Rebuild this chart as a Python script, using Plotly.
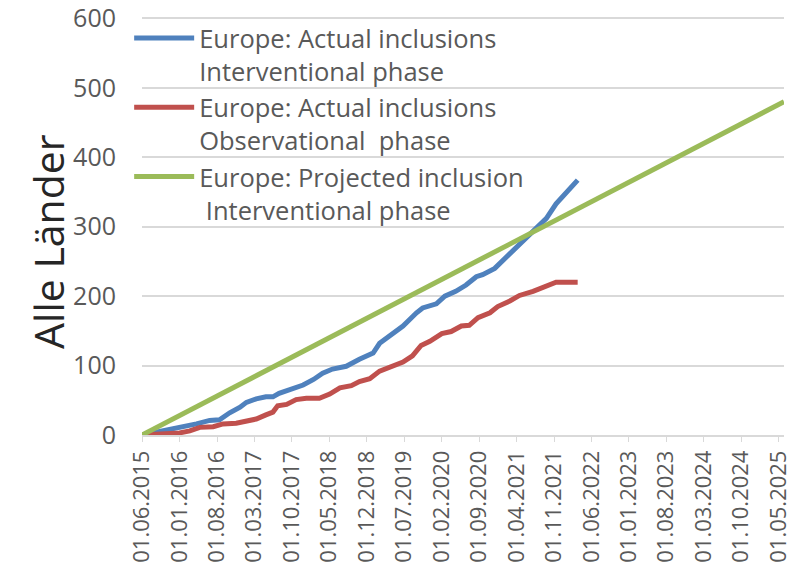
import plotly.graph_objects as go

# ---- data ----
interv_dates = ["2015-06-01","2015-10-01","2016-01-01","2016-04-06","2016-06-20","2016-08-15",
                "2016-10-12","2016-12-10","2017-01-15","2017-03-12","2017-05-06","2017-06-15",
                "2017-07-20","2017-10-06","2017-12-04","2018-02-01","2018-03-25","2018-05-20",
                "2018-08-06","2018-10-20","2019-01-06","2019-02-12","2019-04-10","2019-06-25",
                "2019-09-10","2019-10-15","2020-01-01","2020-02-18","2020-04-20","2020-06-18",
                "2020-08-15","2020-09-20","2020-11-28","2021-02-04","2021-04-18","2021-07-04",
                "2021-09-18","2021-11-12","2022-01-10","2022-03-15"]
interv_values = [0, 6, 10, 16, 21, 22, 32, 40, 47, 52, 55, 55, 60, 66, 72, 80, 89, 95,
                 99, 109, 118, 132, 142, 157, 176, 183, 189, 200, 207, 216, 228, 231, 240,
                 257, 274, 295, 312, 333, 350, 367]

obs_dates = ["2015-06-01","2015-10-01","2016-01-01","2016-02-28","2016-04-25","2016-07-10",
             "2016-09-04","2016-11-18","2017-01-15","2017-03-12","2017-05-06","2017-06-15",
             "2017-07-12","2017-09-01","2017-10-25","2017-12-22","2018-03-06","2018-05-04",
             "2018-07-01","2018-09-04","2018-10-20","2018-12-18","2019-02-12","2019-04-28",
             "2019-06-25","2019-08-18","2019-10-06","2019-11-25","2020-02-01","2020-03-25",
             "2020-05-22","2020-07-06","2020-08-25","2020-11-01","2020-12-15","2021-02-22",
             "2021-04-18","2021-07-04","2021-09-01","2021-11-12","2022-03-15"]
obs_values = [0, 2, 3, 6, 11, 12, 16, 17, 20, 23, 29, 33, 42, 44, 51, 53, 53, 59, 68, 71,
              77, 81, 92, 99, 105, 114, 129, 135, 146, 149, 157, 158, 169, 176, 185, 193,
              201, 207, 213, 220, 220]

proj_dates = ["2015-06-01", "2025-06-01"]
proj_values = [0, 480]

tick_dates = ["2015-06-01","2016-01-01","2016-08-01","2017-03-01","2017-10-01","2018-05-01",
              "2018-12-01","2019-07-01","2020-02-01","2020-09-01","2021-04-01","2021-11-01",
              "2022-06-01","2023-01-01","2023-08-01","2024-03-01","2024-10-01","2025-05-01"]
tick_labels = ["01.06.2015","01.01.2016","01.08.2016","01.03.2017","01.10.2017","01.05.2018",
               "01.12.2018","01.07.2019","01.02.2020","01.09.2020","01.04.2021","01.11.2021",
               "01.06.2022","01.01.2023","01.08.2023","01.03.2024","01.10.2024","01.05.2025"]
y_ticks = [0, 100, 200, 300, 400, 500, 600]

names = ["Europe: Actual inclusions<br>Interventional phase",
         "Europe: Actual inclusions<br>Observational  phase",
         "Europe: Projected inclusion<br> Interventional phase"]
colors = ["#4F81BD", "#C0504D", "#9BBB59"]
y_title = "Alle Länder"

FONT = "Open Sans"
fig = go.Figure()
for xs, ys, nm, c in [(interv_dates, interv_values, names[0], colors[0]),
                      (obs_dates, obs_values, names[1], colors[1]),
                      (proj_dates, proj_values, names[2], colors[2])]:
    fig.add_trace(go.Scatter(x=xs, y=ys, mode="lines", name=nm,
                             line=dict(color=c, width=5)))

fig.update_layout(
    width=800, height=567,
    margin=dict(l=142, r=16, t=17, b=132),
    paper_bgcolor="white", plot_bgcolor="white",
    font=dict(family=FONT, color="#595959", size=24),
    showlegend=True,
    legend=dict(x=-0.02, y=1.005, xanchor="left", yanchor="top",
                bgcolor="rgba(0,0,0,0)", valign="top",
                font=dict(family=FONT, size=25.5, color="#595959"),
                tracegroupgap=0, itemwidth=60),
    xaxis=dict(type="date", range=["2015-06-01", "2025-06-01"], automargin=False,
               tickmode="array", tickvals=tick_dates, ticktext=tick_labels,
               tickangle=-90, showgrid=False, showline=True, linecolor="#D9D9D9",
               linewidth=1.5, ticks="outside", ticklen=5, tickcolor="#D9D9D9",
               ticklabeloverflow="allow",
               tickfont=dict(family=FONT, size=22, color="#595959"), zeroline=False),
    yaxis=dict(range=[0, 602], tickvals=y_ticks, automargin=False,
               showgrid=True, gridcolor="#D9D9D9", gridwidth=1.5, zeroline=False,
               showline=False, ticks="", ticklabelstandoff=25, ticklabeloverflow="allow",
               tickfont=dict(family=FONT, size=25, color="#595959")),
    annotations=[dict(text=y_title, textangle=-90, xref="paper", yref="paper",
                      x=-0.1464, y=0.462, xanchor="center", yanchor="middle",
                      showarrow=False,
                      font=dict(family=FONT, size=41, color="#262626"))],
)

fig.write_html("out.html")
